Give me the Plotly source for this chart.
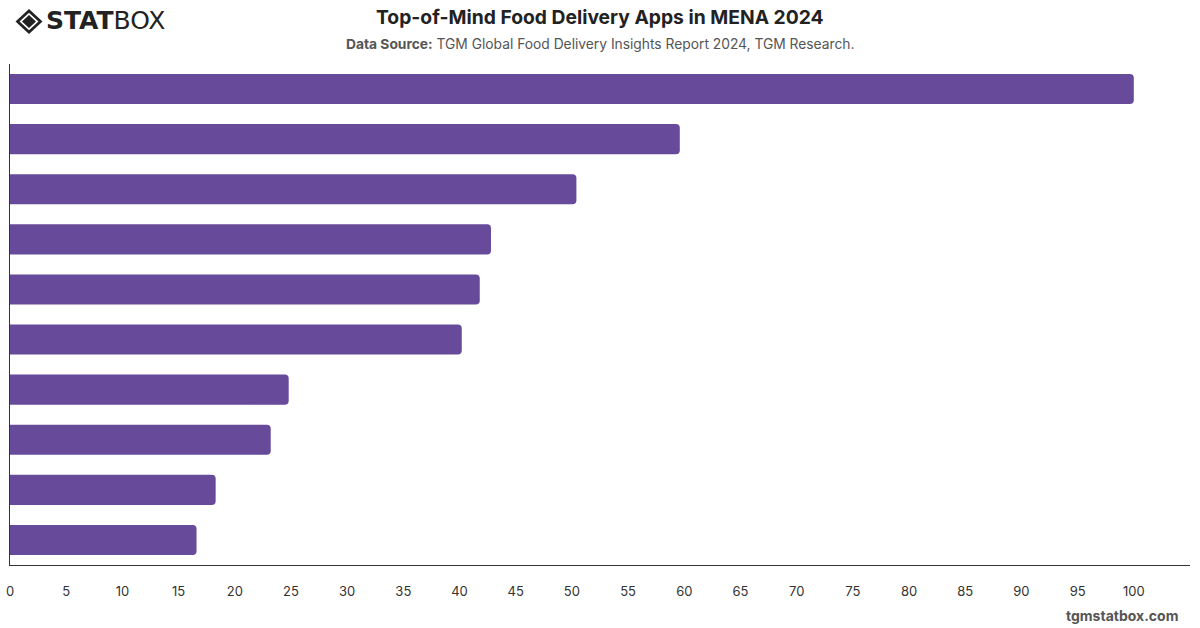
import plotly.graph_objects as go

categories = ["App 1", "App 2", "App 3", "App 4", "App 5",
              "App 6", "App 7", "App 8", "App 9", "App 10"]
values = [100.0, 59.6, 50.4, 42.8, 41.8, 40.2, 24.8, 23.2, 18.3, 16.6]
tick_vals = list(range(0, 101, 5))
tick_text = [str(v) for v in tick_vals]

W, H = 1200, 628
ml, mr, mt, mb = 10, 10, 64, 63
pw, ph = W - ml - mr, H - mt - mb


def px(x):
    return (x - ml) / pw


def py(y):
    return 1 - (y - mt) / ph


fig = go.Figure(go.Bar(
    x=values, y=categories, orientation="h",
    marker=dict(color="#684A9B", line=dict(width=0)),
    width=0.6, hoverinfo="x",
))


def diamond(cx, cy, rx, ry, color):
    path = (f"M {px(cx - rx)} {py(cy)} L {px(cx)} {py(cy - ry)} "
            f"L {px(cx + rx)} {py(cy)} L {px(cx)} {py(cy + ry)} Z")
    return dict(type="path", path=path, xref="paper", yref="paper",
                fillcolor=color, line=dict(width=0), layer="above")


shapes = [
    diamond(29, 21.5, 13.5, 12.5, "#222"),
    diamond(29, 21.5, 9.5, 8.8, "white"),
    diamond(29, 21.5, 7, 6.5, "#222"),
]

fig.update_layout(
    width=W, height=H,
    margin=dict(l=ml, r=mr, t=mt, b=mb, autoexpand=False),
    paper_bgcolor="white", plot_bgcolor="white",
    barcornerradius=4,
    showlegend=False,
    font=dict(family="Inter, Roboto, sans-serif", color="#333"),
    xaxis=dict(range=[0, 105.0], tickvals=tick_vals, ticktext=tick_text,
               showgrid=False, zeroline=False, showline=True, automargin=False,
               linecolor="#333", linewidth=1, ticks="",
               tickfont=dict(size=13, color="#333"), ticklabelstandoff=14),
    yaxis=dict(showticklabels=False, showgrid=False, automargin=False,
               zeroline=False, showline=True, linecolor="#333", linewidth=1,
               ticks="", range=[9.5, -0.5]),
    shapes=shapes,
    annotations=[
        dict(text="<b>Top-of-Mind Food Delivery Apps in MENA 2024</b>",
             x=px(600), y=py(17), xref="paper", yref="paper", showarrow=False,
             font=dict(size=19.3, color="#222"), xanchor="center", yanchor="middle"),
        dict(text="<b>Data Source:</b> TGM Global Food Delivery Insights Report 2024, TGM Research.",
             x=px(600), y=py(44), xref="paper", yref="paper", showarrow=False,
             font=dict(size=13.8, color="#555"), xanchor="center", yanchor="middle"),
        dict(text="<b>tgmstatbox.com</b>",
             x=px(1180), y=py(615), xref="paper", yref="paper", showarrow=False,
             font=dict(size=14, color="#555"), xanchor="right", yanchor="middle"),
        dict(text="<b>STAT</b>BOX",
             x=px(44), y=py(21), xref="paper", yref="paper", showarrow=False,
             font=dict(size=25, color="#222", family="DejaVu Sans, sans-serif"),
             xanchor="left", yanchor="middle"),
    ],
)

fig.write_html("out.html")
